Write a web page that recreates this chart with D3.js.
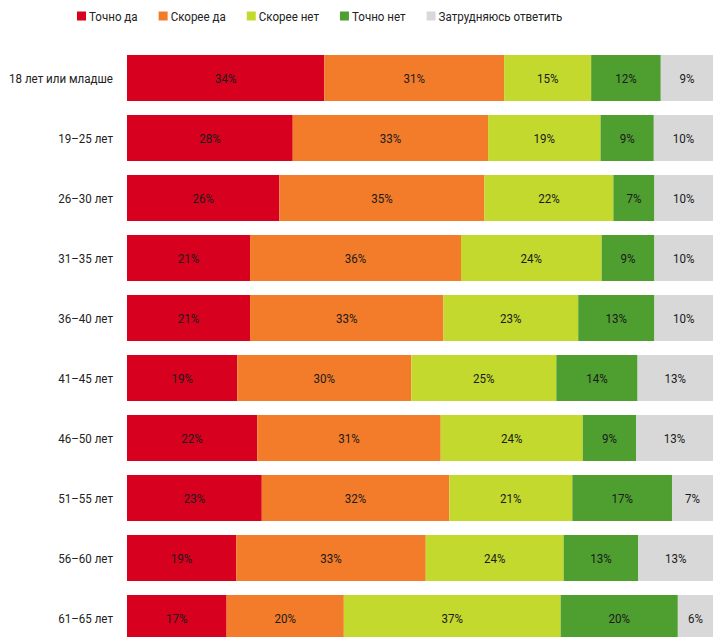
<!DOCTYPE html>
<html>
<head>
<meta charset="utf-8">
<script src="https://cdn.jsdelivr.net/npm/d3@7"></script>
<style>
  body { margin: 0; background: #fff; }
  svg { display: block; font-family: Roboto, "Liberation Sans", sans-serif; }
</style>
</head>
<body>
<div id="chart"></div>
<script>
const ages = ["18 лет или младше", "19–25 лет", "26–30 лет", "31–35 лет", "36–40 лет",
              "41–45 лет", "46–50 лет", "51–55 лет", "56–60 лет", "61–65 лет"];
const answers = ["Точно да", "Скорее да", "Скорее нет", "Точно нет", "Затрудняюсь ответить"];
const tochnoDa   = [34, 28, 26, 21, 21, 19, 22, 23, 19, 17];
const skoreeDa   = [31, 33, 35, 36, 33, 30, 31, 32, 33, 20];
const skoreeNet  = [15, 19, 22, 24, 23, 25, 24, 21, 24, 37];
const tochnoNet  = [12,  9,  7,  9, 13, 14,  9, 17, 13, 20];
const zatrud     = [ 9, 10, 10, 10, 10, 13, 13,  7, 13,  6];
const colors = ["#d7001e", "#f27c2a", "#c3d92e", "#4f9e30", "#d8d8d8"];

const width = 713, height = 637;
const margin = {top: 55, left: 127, right: 0};
const step = 60, barH = 46;
const squeeze = 0.89; // fake a condensed face

// rows: each segment normalised to row total so bars fill the full width
const series = [tochnoDa, skoreeDa, skoreeNet, tochnoNet, zatrud];
const rows = ages.map((a, i) => {
  const vals = series.map(s => s[i]);
  const total = d3.sum(vals);
  let acc = 0;
  return {age: a, segs: vals.map((v, j) => {
    const s = {v, j, x0: acc / total, x1: (acc + v) / total};
    acc += v;
    return s;
  })};
});

const svg = d3.select("#chart").append("svg")
  .attr("width", width).attr("height", height);

const x = d3.scaleLinear().domain([0, 1]).range([margin.left, width - margin.right]);
const y = d3.scaleBand().domain(ages)
  .range([margin.top, margin.top + step * ages.length - (step - barH)])
  .paddingInner((step - barH) / step).paddingOuter(0);

const row = svg.append("g").selectAll("g")
  .data(rows)
  .join("g")
    .attr("transform", d => `translate(0,${y(d.age)})`);

row.append("text")
  .attr("transform", `translate(113,${y.bandwidth() / 2}) scale(${squeeze},1)`)
  .attr("dy", "0.35em")
  .attr("text-anchor", "end")
  .attr("font-size", 13)
  .attr("fill", "#222")
  .text(d => d.age);

const seg = row.selectAll("g.seg")
  .data(d => d.segs)
  .join("g").attr("class", "seg");

seg.append("rect")
  .attr("x", d => x(d.x0))
  .attr("width", d => x(d.x1) - x(d.x0))
  .attr("height", y.bandwidth())
  .attr("fill", d => colors[d.j]);

seg.append("text")
  .attr("transform", d => `translate(${(x(d.x0) + x(d.x1)) / 2},${y.bandwidth() / 2}) scale(${squeeze},1)`)
  .attr("dy", "0.35em")
  .attr("text-anchor", "middle")
  .attr("font-size", 13)
  .attr("fill", "#1a1a1a")
  .text(d => d.v + "%");

// legend
const legend = svg.append("g").attr("transform", "translate(77,16)");
let lx = 0;
answers.forEach((a, i) => {
  const g = legend.append("g").attr("transform", `translate(${lx},0)`);
  g.append("rect").attr("x", 0).attr("y", -4.5).attr("width", 9).attr("height", 9)
    .attr("fill", colors[i]);
  const t = g.append("text")
    .attr("transform", `translate(12,0) scale(${squeeze},1)`)
    .attr("dy", "0.35em")
    .attr("font-size", 13).attr("fill", "#222").text(a);
  lx += 12 + t.node().getComputedTextLength() * squeeze + 21;
});
</script>
</body>
</html>
